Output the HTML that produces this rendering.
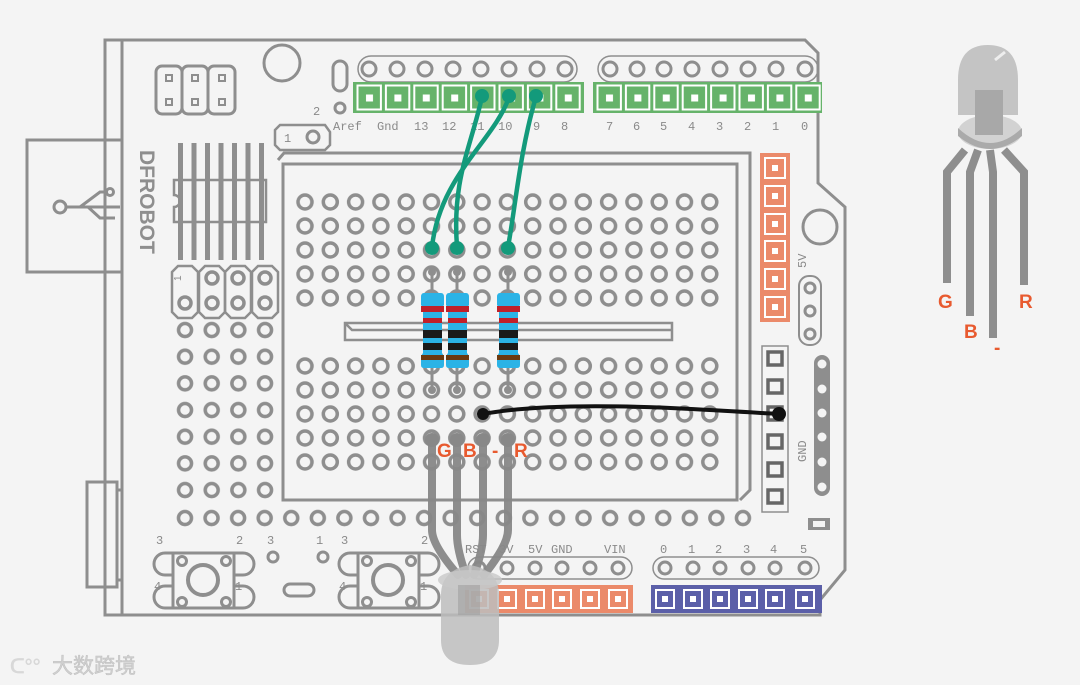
<!DOCTYPE html>
<html><head><meta charset="utf-8"><style>
html,body{margin:0;padding:0;background:#f4f4f4;width:1080px;height:685px;overflow:hidden}
svg{display:block}
text{font-family:"Liberation Sans",sans-serif;fill:#8a8a8a}
text.m{font-family:"Liberation Mono",monospace}
text.o{font-family:"Liberation Sans",sans-serif;font-weight:bold;font-size:19px;fill:#e85a2f}
</style></head><body>
<svg width="1080" height="685" viewBox="0 0 1080 685" xmlns="http://www.w3.org/2000/svg">
<defs>
<pattern id="h1" x="292.35" y="190" width="25.3" height="24" patternUnits="userSpaceOnUse">
<circle cx="12.65" cy="12" r="7" fill="#f4f4f4" stroke="#8e8e8e" stroke-width="3.5"/></pattern>
<pattern id="h1b" x="292.35" y="354" width="25.3" height="24" patternUnits="userSpaceOnUse">
<circle cx="12.65" cy="12" r="7" fill="#f4f4f4" stroke="#8e8e8e" stroke-width="3.5"/></pattern>
<pattern id="h2" x="171.7" y="316.7" width="26.67" height="26.67" patternUnits="userSpaceOnUse">
<circle cx="13.33" cy="13.33" r="6.5" fill="#f4f4f4" stroke="#8e8e8e" stroke-width="3.5"/></pattern>
<pattern id="h3" x="171.7" y="504.7" width="26.57" height="26.67" patternUnits="userSpaceOnUse">
<circle cx="13.28" cy="13.33" r="6.5" fill="#f4f4f4" stroke="#8e8e8e" stroke-width="3.5"/></pattern>
<pattern id="sqA" x="355" y="83" width="28.4" height="40" patternUnits="userSpaceOnUse">
<rect x="2.5" y="2.5" width="23.4" height="24" fill="none" stroke="#fff" stroke-width="2"/><rect x="11" y="11.5" width="7" height="7" fill="#fff"/></pattern>
<pattern id="sqB" x="595" y="83" width="28.4" height="40" patternUnits="userSpaceOnUse">
<rect x="2.5" y="2.5" width="23.4" height="24" fill="none" stroke="#fff" stroke-width="2"/><rect x="11" y="11.5" width="7" height="7" fill="#fff"/></pattern>
</defs>
<g fill="none" stroke="#8e8e8e" stroke-width="3">
<path d="M105,40 L805,40 L818,53 L818,183 L845,207 L845,570 L820,600 L820,615 L105,615 Z"/>
<line x1="122" y1="40" x2="122" y2="615"/>
<rect x="27" y="140" width="95" height="132"/>
<rect x="87" y="482" width="30" height="105"/>
<line x1="117" y1="490" x2="122" y2="490"/><line x1="117" y1="580" x2="122" y2="580"/>
<circle cx="60" cy="207" r="6"/>
<path d="M66,207 L120,207 M80,207 L100,192 L108,192 M88,207 L100,218 L115,218"/>
<circle cx="110" cy="192" r="3.5"/>
<circle cx="282" cy="63" r="18"/>
<circle cx="820" cy="227" r="17"/>
<rect x="156" y="66" width="26" height="48" rx="6"/><rect x="182" y="66" width="26" height="48" rx="6"/><rect x="208" y="66" width="27" height="48" rx="6"/>
</g>
<g fill="none" stroke="#8e8e8e" stroke-width="2">
<rect x="166" y="75" width="6" height="6"/><rect x="192" y="75" width="6" height="6"/><rect x="219" y="75" width="6" height="6"/>
<rect x="166" y="99" width="6" height="6"/><rect x="192" y="99" width="6" height="6"/><rect x="219" y="99" width="6" height="6"/>
<rect x="333" y="61" width="14" height="30" rx="7" stroke-width="3"/>
<circle cx="340" cy="108" r="5" stroke-width="3"/>
<path d="M280,125 L325,125 L330,132 L330,145 L325,150 L280,150 L275,145 L275,130 Z" stroke-width="2.5"/>
<circle cx="313" cy="137" r="6" stroke-width="3"/>
</g>
<g fill="#8e8e8e">
<rect x="178" y="143" width="5" height="117"/><rect x="191.5" y="143" width="5" height="117"/><rect x="205" y="143" width="5" height="117"/><rect x="218.5" y="143" width="5" height="117"/><rect x="232" y="143" width="5" height="117"/><rect x="245.5" y="143" width="5" height="117"/><rect x="259" y="143" width="5" height="117"/>
</g>
<path d="M174,180 L266,180 L266,222 L174,222 L174,207 A6,6 0 0 0 174,195 Z" fill="none" stroke="#8e8e8e" stroke-width="2.5"/>
<text x="0" y="0" transform="translate(140,150) rotate(90)" style="font-weight:bold;font-size:21px;fill:#8e8e8e">DFROBOT</text>
<g fill="none" stroke="#8e8e8e" stroke-width="2.5">
<path d="M178,266 L192,266 L198,272 L198,312 L192,318 L178,318 L172,312 L172,272 Z"/>
<path d="M205,266 L219,266 L225,272 L225,312 L219,318 L205,318 L199,312 L199,272 Z"/>
<path d="M231,266 L245,266 L251,272 L251,312 L245,318 L231,318 L225,312 L225,272 Z"/>
<path d="M258,266 L272,266 L278,272 L278,312 L272,318 L258,318 L252,312 L252,272 Z"/>
</g>
<g fill="#f4f4f4" stroke="#8e8e8e" stroke-width="3.5">
<circle cx="185" cy="303" r="6"/><circle cx="212" cy="303" r="6"/><circle cx="238" cy="303" r="6"/><circle cx="265" cy="303" r="6"/>
<circle cx="212" cy="278" r="6"/><circle cx="238" cy="278" r="6"/><circle cx="265" cy="278" r="6"/>
</g>
<text x="0" y="0" transform="translate(181,281) rotate(-90)" style="font-size:10px">1</text>
<rect x="171.7" y="316.7" width="106.7" height="186.7" fill="url(#h2)"/>
<rect x="171.7" y="504.7" width="584.5" height="26.67" fill="url(#h3)"/>
<path d="M278,160 L284,153 L750,153 L750,490 L740,500" fill="none" stroke="#8e8e8e" stroke-width="3"/>
<rect x="283" y="164" width="454" height="336" fill="none" stroke="#8e8e8e" stroke-width="3"/>
<rect x="292.35" y="190" width="430.1" height="120" fill="url(#h1)"/>
<rect x="292.35" y="354" width="430.1" height="120" fill="url(#h1b)"/>
<path d="M345,323 L672,323 L672,340 L345,340 Z M345,323 L352,330 L672,330" fill="none" stroke="#8e8e8e" stroke-width="2.5"/>
<g fill="none" stroke="#8e8e8e" stroke-width="1.5">
<rect x="358" y="56" width="219" height="26" rx="13"/>
<rect x="598" y="56" width="220" height="26" rx="13"/>
</g>
<g fill="none" stroke="#8e8e8e" stroke-width="3">
<circle cx="369" cy="69" r="7"/><circle cx="397" cy="69" r="7"/><circle cx="425" cy="69" r="7"/><circle cx="453" cy="69" r="7"/><circle cx="481" cy="69" r="7"/><circle cx="509" cy="69" r="7"/><circle cx="537" cy="69" r="7"/><circle cx="565" cy="69" r="7"/>
<circle cx="610" cy="69" r="7"/><circle cx="637" cy="69" r="7"/><circle cx="664" cy="69" r="7"/><circle cx="692" cy="69" r="7"/><circle cx="720" cy="69" r="7"/><circle cx="748" cy="69" r="7"/><circle cx="776" cy="69" r="7"/><circle cx="805" cy="69" r="7"/>
</g>
<rect x="353" y="82" width="231" height="31" fill="#66b36a"/>
<rect x="355" y="83" width="227.2" height="29" fill="url(#sqA)"/>
<rect x="593" y="82" width="229" height="31" fill="#66b36a"/>
<rect x="595" y="83" width="227.2" height="29" fill="url(#sqB)"/>
<g style="font-size:12px">
<text class="m" x="333" y="130">Aref</text><text class="m" x="377" y="130">Gnd</text><text class="m" x="414" y="130">13</text><text class="m" x="442" y="130">12</text><text class="m" x="470" y="130">11</text><text class="m" x="498" y="130">10</text><text class="m" x="533" y="130">9</text><text class="m" x="561" y="130">8</text>
<text class="m" x="606" y="130">7</text><text class="m" x="633" y="130">6</text><text class="m" x="660" y="130">5</text><text class="m" x="688" y="130">4</text><text class="m" x="716" y="130">3</text><text class="m" x="744" y="130">2</text><text class="m" x="772" y="130">1</text><text class="m" x="801" y="130">0</text>
<text class="m" x="313" y="115">2</text><text class="m" x="284" y="142">1</text>
</g>
<rect x="760" y="153" width="30" height="169" fill="#eb8a6a"/>
<g fill="none" stroke="#fff" stroke-width="2">
<rect x="765" y="158" width="20" height="20"/><rect x="765" y="186" width="20" height="20"/><rect x="765" y="214" width="20" height="20"/><rect x="765" y="241" width="20" height="20"/><rect x="765" y="269" width="20" height="20"/><rect x="765" y="297" width="20" height="20"/>
</g>
<g fill="#fff"><rect x="772" y="165" width="6" height="6"/><rect x="772" y="193" width="6" height="6"/><rect x="772" y="221" width="6" height="6"/><rect x="772" y="248" width="6" height="6"/><rect x="772" y="276" width="6" height="6"/><rect x="772" y="304" width="6" height="6"/></g>
<text class="m" x="0" y="0" transform="translate(806,268) rotate(-90)" style="font-size:12px">5V</text>
<rect x="799" y="276" width="22" height="69" rx="10" fill="none" stroke="#8e8e8e" stroke-width="2"/>
<g fill="none" stroke="#8e8e8e" stroke-width="3"><circle cx="810" cy="288" r="5"/><circle cx="810" cy="311" r="5"/><circle cx="810" cy="334" r="5"/></g>
<rect x="762" y="346" width="26" height="166" fill="none" stroke="#8e8e8e" stroke-width="1.5"/>
<g fill="none" stroke="#666" stroke-width="3.5">
<rect x="768" y="352" width="14" height="13"/><rect x="768" y="380" width="14" height="13"/><rect x="768" y="407" width="14" height="13"/><rect x="768" y="435" width="14" height="13"/><rect x="768" y="463" width="14" height="13"/><rect x="768" y="490" width="14" height="13"/>
</g>
<text class="m" x="0" y="0" transform="translate(806,462) rotate(-90)" style="font-size:12px">GND</text>
<rect x="814" y="355" width="16" height="141" rx="8" fill="#8e8e8e"/>
<g fill="#f4f4f4"><circle cx="822" cy="364" r="4.5"/><circle cx="822" cy="389" r="4.5"/><circle cx="822" cy="413" r="4.5"/><circle cx="822" cy="437" r="4.5"/><circle cx="822" cy="462" r="4.5"/><circle cx="822" cy="487" r="4.5"/></g>
<rect x="808" y="518" width="22" height="12" fill="#8e8e8e"/><rect x="813" y="521" width="12" height="6" fill="#f4f4f4"/>
<g style="font-size:12px">
<text class="m" x="660" y="553">0</text><text class="m" x="688" y="553">1</text><text class="m" x="715" y="553">2</text><text class="m" x="743" y="553">3</text><text class="m" x="770" y="553">4</text><text class="m" x="800" y="553">5</text>
<text class="m" x="465" y="553">RST</text><text class="m" x="499" y="553">3V</text><text class="m" x="528" y="553">5V</text><text class="m" x="551" y="553">GND</text><text class="m" x="604" y="553">VIN</text>
</g>
<rect x="653" y="557" width="166" height="22" rx="11" fill="none" stroke="#8e8e8e" stroke-width="1.5"/>
<rect x="468" y="557" width="164" height="22" rx="11" fill="none" stroke="#8e8e8e" stroke-width="1.5"/>
<g fill="none" stroke="#8e8e8e" stroke-width="3">
<circle cx="665" cy="568" r="6"/><circle cx="693" cy="568" r="6"/><circle cx="720" cy="568" r="6"/><circle cx="748" cy="568" r="6"/><circle cx="775" cy="568" r="6"/><circle cx="805" cy="568" r="6"/>
<circle cx="479" cy="568" r="6"/><circle cx="507" cy="568" r="6"/><circle cx="535" cy="568" r="6"/><circle cx="562" cy="568" r="6"/><circle cx="590" cy="568" r="6"/><circle cx="618" cy="568" r="6"/>
</g>
<rect x="651" y="585" width="171" height="28" fill="#5b5fa8"/>
<rect x="465" y="585" width="168" height="28" fill="#eb8a6a"/>
<g fill="none" stroke="#fff" stroke-width="2">
<rect x="656" y="590" width="18" height="18"/><rect x="684" y="590" width="18" height="18"/><rect x="711" y="590" width="18" height="18"/><rect x="739" y="590" width="18" height="18"/><rect x="766" y="590" width="18" height="18"/><rect x="796" y="590" width="18" height="18"/>
<rect x="470" y="590" width="18" height="18"/><rect x="498" y="590" width="18" height="18"/><rect x="526" y="590" width="18" height="18"/><rect x="553" y="590" width="18" height="18"/><rect x="581" y="590" width="18" height="18"/><rect x="609" y="590" width="18" height="18"/>
</g>
<g fill="#fff">
<rect x="662" y="596" width="6" height="6"/><rect x="690" y="596" width="6" height="6"/><rect x="717" y="596" width="6" height="6"/><rect x="745" y="596" width="6" height="6"/><rect x="772" y="596" width="6" height="6"/><rect x="802" y="596" width="6" height="6"/>
<rect x="476" y="596" width="6" height="6"/><rect x="504" y="596" width="6" height="6"/><rect x="532" y="596" width="6" height="6"/><rect x="559" y="596" width="6" height="6"/><rect x="587" y="596" width="6" height="6"/><rect x="615" y="596" width="6" height="6"/>
</g>
<g id="btn" fill="none" stroke="#8e8e8e" stroke-width="3">
<rect x="154" y="553" width="100" height="22" rx="11"/>
<rect x="154" y="586" width="100" height="22" rx="11"/>
<rect x="173" y="553" width="61" height="55" fill="#f4f4f4"/>
<circle cx="203" cy="580" r="15" stroke-width="4"/>
<circle cx="182" cy="561" r="4.5"/><circle cx="226" cy="561" r="4.5"/><circle cx="182" cy="602" r="4.5"/><circle cx="226" cy="602" r="4.5"/>
</g>
<use href="#btn" x="185"/>
<g style="font-size:12px">
<text class="m" x="156" y="544">3</text><text class="m" x="236" y="544">2</text><text class="m" x="154" y="590">4</text><text class="m" x="235" y="590">1</text>
<text class="m" x="341" y="544">3</text><text class="m" x="421" y="544">2</text><text class="m" x="339" y="590">4</text><text class="m" x="420" y="590">1</text>
<text class="m" x="267" y="544">3</text><text class="m" x="316" y="544">1</text>
</g>
<g fill="none" stroke="#8e8e8e" stroke-width="3"><circle cx="273" cy="557" r="5"/><circle cx="323" cy="557" r="5"/>
<rect x="284" y="584" width="30" height="12" rx="6"/></g>
<g fill="none" stroke="#139a7b" stroke-width="4.5" stroke-linecap="round">
<path d="M509,97 C495,140 440,175 432,247"/>
<path d="M482,97 C470,150 452,180 457,247"/>
<path d="M536,97 C520,150 515,210 508,247"/>
</g>
<g fill="#139a7b"><circle cx="482" cy="96" r="7"/><circle cx="509" cy="96" r="7"/><circle cx="536" cy="96" r="7"/><circle cx="432" cy="248" r="7"/><circle cx="457" cy="248" r="7"/><circle cx="508" cy="248" r="7"/></g>
<g id="res">
<line x1="432" y1="272" x2="432" y2="390" stroke="#8e8e8e" stroke-width="3"/>
<circle cx="432" cy="272" r="4" fill="#8e8e8e"/><circle cx="432" cy="390" r="4" fill="#8e8e8e"/>
<path d="M424,293 L441,293 Q444,293 444,297 L444,305 L442,308 L442,353 L444,356 L444,365 Q444,368 441,368 L424,368 Q421,368 421,365 L421,356 L423,353 L423,308 L421,305 L421,297 Q421,293 424,293 Z" fill="#2bb3e6"/>
<rect x="421" y="306" width="23" height="6" fill="#c0202a"/>
<rect x="423" y="318" width="19" height="5" fill="#c0202a"/>
<rect x="423" y="330" width="19" height="8" fill="#1a1a1a"/>
<rect x="423" y="343" width="19" height="7" fill="#1a1a1a"/>
<rect x="421" y="355" width="23" height="5" fill="#6b3a10"/>
</g>
<use href="#res" x="25"/>
<use href="#res" x="76"/>
<path d="M483,414 C560,400 680,408 778,414" fill="none" stroke="#111" stroke-width="4"/>
<circle cx="483" cy="414" r="6" fill="#111"/><circle cx="779" cy="414" r="7" fill="#111"/>
<g fill="none" stroke="#888" stroke-width="8" stroke-linecap="round" opacity="0.95">
<path d="M432,440 L432,530 Q432,545 458,575"/>
<path d="M457,440 L457,535 Q457,550 466,575"/>
<path d="M483,440 L483,535 Q483,550 474,575"/>
<path d="M508,440 L508,530 Q508,545 484,575"/>
</g>
<g fill="#888"><circle cx="432" cy="440" r="7"/><circle cx="457" cy="440" r="7"/><circle cx="483" cy="440" r="7"/><circle cx="508" cy="440" r="7"/></g>
<text class="o" x="437" y="457">G</text><text class="o" x="463" y="457">B</text><text class="o" x="492" y="457">-</text><text class="o" x="514" y="457">R</text>
<path d="M441,595 L441,640 Q441,665 470,665 Q499,665 499,640 L499,595 Q499,570 470,565 Q441,570 441,595 Z" fill="#bdbdbd" opacity="0.85"/>
<ellipse cx="470" cy="580" rx="32" ry="10" fill="#c8c8c8" opacity="0.8"/>
<rect x="458" y="585" width="22" height="30" fill="#a0a0a0" opacity="0.6"/>
<g fill="none" stroke="#8e8e8e" stroke-width="8">
<path d="M965,150 L947,172 L947,283"/>
<path d="M978,150 L970,172 L970,316"/>
<path d="M990,150 L993,172 L993,338"/>
<path d="M1004,150 L1024,172 L1024,285"/>
</g>
<path d="M958,115 L958,80 Q958,45 988,45 Q1018,45 1018,80 L1018,115 Z" fill="#c4c4c4"/>
<ellipse cx="990" cy="132" rx="32" ry="17" fill="#d2d2d2"/>
<path d="M958,128 Q990,158 1022,128 L1022,136 Q990,162 958,136 Z" fill="#aaa"/>
<rect x="975" y="90" width="28" height="45" fill="#a8a8a8"/>
<line x1="995" y1="60" x2="1005" y2="52" stroke="#eee" stroke-width="3"/>
<text class="o" x="938" y="308">G</text><text class="o" x="964" y="338">B</text><text class="o" x="994" y="354">-</text><text class="o" x="1019" y="308">R</text>
<text x="10" y="673" style="font-size:20px;font-weight:bold;fill:#d8d8d8">ᑕ°°</text>
<text x="52" y="673" style="font-family:'Liberation Sans','Noto Sans CJK SC',sans-serif;font-size:21px;fill:#d0d0d0;stroke:#c0c0c0;stroke-width:0.5">大数跨境</text>
</svg>
</body></html>
